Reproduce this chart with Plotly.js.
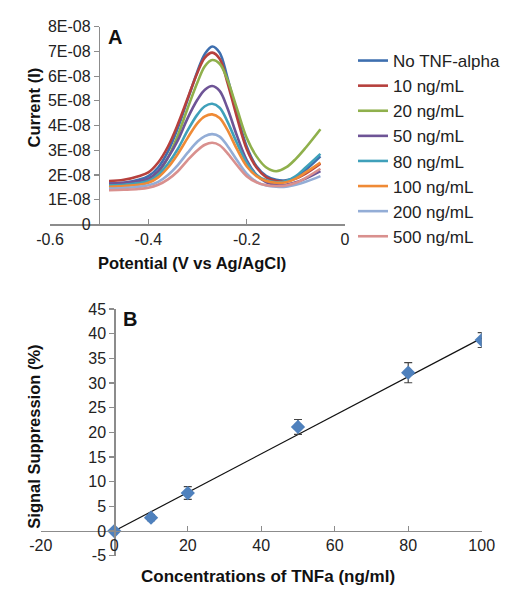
<!DOCTYPE html>
<html>
<head>
<meta charset="utf-8">
<script src="https://cdn.plot.ly/plotly-3.0.1.min.js"></script>
<style>html,body{margin:0;padding:0;background:#fff;}#chart{width:512px;height:599px;}</style>
</head>
<body>
<div id="chart"></div>
<script>
// ---------- Panel A data ----------
const potential = [-0.48, -0.45, -0.42, -0.40, -0.38, -0.36, -0.34, -0.32, -0.30, -0.285, -0.27, -0.255, -0.24, -0.22, -0.20, -0.18, -0.16, -0.14, -0.12, -0.10, -0.08, -0.05];
const seriesNames = ["No TNF-alpha", "10 ng/mL", "20 ng/mL", "50 ng/mL", "80 ng/mL", "100 ng/mL", "200 ng/mL", "500 ng/mL"];
const cur0   = [1.65e-8,1.68e-8,1.80e-8,1.95e-8,2.30e-8,2.95e-8,3.90e-8,5.05e-8,6.20e-8,6.90e-8,7.20e-8,6.95e-8,6.00e-8,4.50e-8,3.15e-8,2.35e-8,1.95e-8,1.80e-8,1.78e-8,1.90e-8,2.20e-8,2.75e-8];
const cur10  = [1.75e-8,1.80e-8,1.95e-8,2.10e-8,2.50e-8,3.15e-8,4.05e-8,5.10e-8,6.15e-8,6.75e-8,6.95e-8,6.70e-8,5.80e-8,4.35e-8,3.05e-8,2.30e-8,1.90e-8,1.75e-8,1.75e-8,1.85e-8,2.05e-8,2.45e-8];
const cur20  = [1.50e-8,1.55e-8,1.65e-8,1.80e-8,2.10e-8,2.70e-8,3.60e-8,4.70e-8,5.75e-8,6.40e-8,6.65e-8,6.50e-8,5.90e-8,4.70e-8,3.50e-8,2.75e-8,2.30e-8,2.15e-8,2.30e-8,2.65e-8,3.10e-8,3.85e-8];
const cur50  = [1.65e-8,1.68e-8,1.75e-8,1.85e-8,2.15e-8,2.70e-8,3.40e-8,4.30e-8,5.05e-8,5.45e-8,5.60e-8,5.40e-8,4.75e-8,3.60e-8,2.60e-8,2.00e-8,1.70e-8,1.60e-8,1.60e-8,1.70e-8,1.85e-8,2.15e-8];
const cur80  = [1.58e-8,1.60e-8,1.67e-8,1.75e-8,2.00e-8,2.45e-8,3.05e-8,3.80e-8,4.45e-8,4.78e-8,4.88e-8,4.72e-8,4.20e-8,3.30e-8,2.50e-8,2.00e-8,1.78e-8,1.70e-8,1.75e-8,1.95e-8,2.30e-8,2.85e-8];
const cur100 = [1.52e-8,1.55e-8,1.60e-8,1.68e-8,1.90e-8,2.30e-8,2.85e-8,3.50e-8,4.10e-8,4.37e-8,4.45e-8,4.30e-8,3.85e-8,3.05e-8,2.35e-8,1.95e-8,1.75e-8,1.68e-8,1.70e-8,1.85e-8,2.10e-8,2.50e-8];
const cur200 = [1.45e-8,1.47e-8,1.52e-8,1.58e-8,1.72e-8,2.00e-8,2.40e-8,2.90e-8,3.35e-8,3.57e-8,3.65e-8,3.55e-8,3.20e-8,2.60e-8,2.05e-8,1.72e-8,1.57e-8,1.52e-8,1.52e-8,1.60e-8,1.72e-8,1.95e-8];
const cur500 = [1.38e-8,1.40e-8,1.43e-8,1.48e-8,1.60e-8,1.82e-8,2.15e-8,2.60e-8,3.00e-8,3.22e-8,3.30e-8,3.20e-8,2.90e-8,2.40e-8,1.95e-8,1.70e-8,1.58e-8,1.55e-8,1.57e-8,1.68e-8,1.88e-8,2.25e-8];
const seriesColors = ["#3E6FAF", "#B6403D", "#8FB04C", "#6E5496", "#3FA0BA", "#EF8A36", "#93ADD6", "#D9908E"];
const currentTickVals = [0, 1e-8, 2e-8, 3e-8, 4e-8, 5e-8, 6e-8, 7e-8, 8e-8];
const currentTickText = ["0", "1E-08", "2E-08", "3E-08", "4E-08", "5E-08", "6E-08", "7E-08", "8E-08"];
const potentialTickVals = [-0.6, -0.4, -0.2, 0];
const potentialTickText = ["-0.6", "-0.4", "-0.2", "0"];

// ---------- Panel B data ----------
const conc = [0, 10, 20, 50, 80, 100];
const suppression = [0, 2.7, 7.7, 21.1, 32.1, 38.7];
const suppressionErr = [0.3, 0.6, 1.3, 1.5, 2.05, 1.5];
const fitX = [0, 100];
const fitY = [0, 39.1];
const concTickVals = [-20, 0, 20, 40, 60, 80, 100];
const concTickText = ["-20", "0", "20", "40", "60", "80", "100"];
const suppTickVals = [-5, 0, 5, 10, 15, 20, 25, 30, 35, 40, 45];
const suppTickText = ["-5", "0", "5", "10", "15", "20", "25", "30", "35", "40", "45"];

const currents = [cur0, cur10, cur20, cur50, cur80, cur100, cur200, cur500];

const FONT = '"Liberation Sans", Arial, Helvetica, sans-serif';
const W = 512, H = 599;
const px = v => v / W;
const py = v => 1 - v / H;

const traces = currents.map((c, i) => ({
  type: 'scatter', mode: 'lines', x: potential, y: c, name: seriesNames[i],
  line: {color: seriesColors[i], width: 2.6, shape: 'spline', smoothing: 1},
  xaxis: 'x', yaxis: 'y', showlegend: true
}));

traces.push({
  type: 'scatter', mode: 'lines', x: fitX, y: fitY, xaxis: 'x2', yaxis: 'y2',
  line: {color: '#111', width: 1.2}, showlegend: false
});
traces.push({
  type: 'scatter', mode: 'markers', x: conc, y: suppression, xaxis: 'x2', yaxis: 'y2',
  marker: {symbol: 'diamond', size: 11, color: '#4F81BD'},
  error_y: {type: 'data', array: suppressionErr, visible: true, color: '#444', thickness: 1.2, width: 4},
  showlegend: false
});

const axisCommon = {
  showgrid: false, zeroline: false, showline: true, linecolor: '#8c8c8c', linewidth: 1.2,
  tickcolor: '#8c8c8c', ticklen: 5, tickwidth: 1.2,
  tickfont: {family: FONT, size: 16, color: '#222'}
};

const layout = {
  width: W, height: H,
  margin: {l: 0, r: 0, t: 0, b: 0},
  paper_bgcolor: '#fff', plot_bgcolor: 'rgba(0,0,0,0)',
  font: {family: FONT, color: '#222'},
  showlegend: true,
  legend: {
    x: px(353), y: py(43), xanchor: 'left', yanchor: 'top',
    font: {family: FONT, size: 17, color: '#222'},
    bgcolor: 'rgba(0,0,0,0)', itemwidth: 30, tracegroupgap: 0
  },
  xaxis: Object.assign({}, axisCommon, {
    domain: [px(50), px(345)], range: [-0.6, 0], anchor: 'y',
    tickvals: potentialTickVals, ticktext: potentialTickText, ticks: 'inside'
  }),
  yaxis: Object.assign({}, axisCommon, {
    domain: [py(224.3), py(26.7)], range: [0, 8e-8], anchor: 'free', position: px(98.8),
    tickvals: currentTickVals, ticktext: currentTickText, ticks: 'outside'
  }),
  xaxis2: Object.assign({}, axisCommon, {
    domain: [px(40.8), px(481.7)], range: [-20, 100], anchor: 'free', position: py(531),
    tickvals: concTickVals, ticktext: concTickText, ticks: 'inside'
  }),
  yaxis2: Object.assign({}, axisCommon, {
    domain: [py(555.7), py(309)], range: [-5, 45], anchor: 'free', position: px(114.3),
    tickvals: suppTickVals, ticktext: suppTickText, ticks: 'outside'
  }),
  annotations: [
    {text: 'Potential (V vs Ag/AgCl)', x: px(191.7), y: py(263.3), xref: 'paper', yref: 'paper', xanchor: 'center', yanchor: 'middle', showarrow: false, font: {family: FONT, size: 16.5, color: '#111', weight: 'bold'}},
    {text: 'Current (I)', x: px(34), y: py(107.5), xref: 'paper', yref: 'paper', xanchor: 'center', yanchor: 'middle', textangle: -90, showarrow: false, font: {family: FONT, size: 16.5, color: '#111', weight: 'bold'}},
    {text: 'Concentrations of TNFa (ng/ml)', x: px(267.5), y: py(576.7), xref: 'paper', yref: 'paper', xanchor: 'center', yanchor: 'middle', showarrow: false, font: {family: FONT, size: 17, color: '#111', weight: 'bold'}},
    {text: 'Signal Suppression (%)', x: px(34), y: py(436.7), xref: 'paper', yref: 'paper', xanchor: 'center', yanchor: 'middle', textangle: -90, showarrow: false, font: {family: FONT, size: 16.5, color: '#111', weight: 'bold'}},
    {text: 'A', x: px(115), y: py(36.7), xref: 'paper', yref: 'paper', xanchor: 'center', yanchor: 'middle', showarrow: false, font: {family: FONT, size: 20, color: '#111', weight: 'bold'}},
    {text: 'B', x: px(129.7), y: py(319), xref: 'paper', yref: 'paper', xanchor: 'center', yanchor: 'middle', showarrow: false, font: {family: FONT, size: 20, color: '#111', weight: 'bold'}}
  ]
};

Plotly.newPlot('chart', traces, layout, {staticPlot: true, displayModeBar: false});
</script>
</body>
</html>
